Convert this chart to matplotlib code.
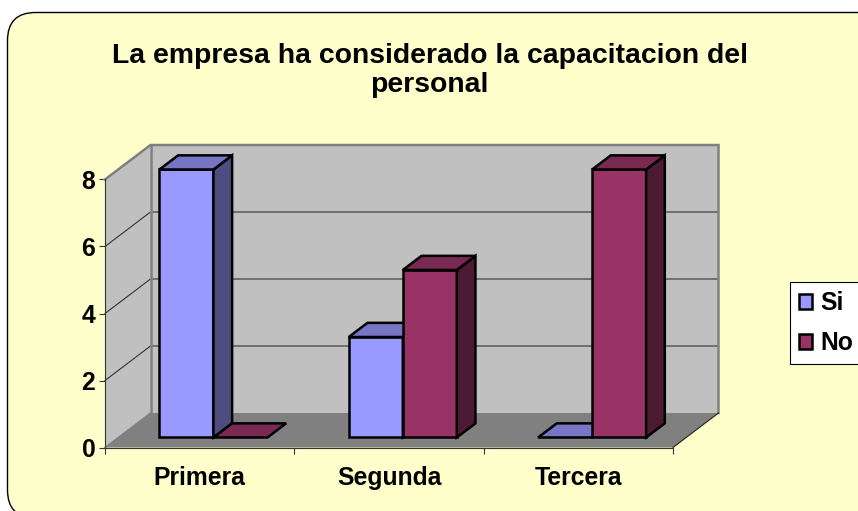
import matplotlib
matplotlib.use("Agg")
import matplotlib.pyplot as plt
from matplotlib.patches import FancyBboxPatch, Polygon, Patch

categories = ["Primera", "Segunda", "Tercera"]
series_names = ["Si", "No"]
si_values = [8, 3, 0]
no_values = [0, 5, 8]
y_ticks = [0, 2, 4, 6, 8]
title = "La empresa ha considerado la capacitacion del\npersonal"

W, H = 858, 511
FONT = "Liberation Sans"
plt.rcParams["font.family"] = [FONT, "DejaVu Sans"]
plt.rcParams["font.weight"] = "bold"

fig = plt.figure(figsize=(W / 100, H / 100), dpi=100, facecolor="white")

# Rounded card background in pixel coordinates
bg = fig.add_axes([0, 0, 1, 1])
bg.set_xlim(0, W)
bg.set_ylim(H, 0)
bg.axis("off")
bg.add_patch(FancyBboxPatch((7.5 + 28, 12.5 + 28), W + 60 - 56, 449.5,
                            boxstyle="round,pad=28,rounding_size=28",
                            fc="#FFFFCC", ec="black", lw=1.0, clip_on=True))
bg.text(429.5, 70.5, title, ha="center", va="center", fontsize=20.4,
        fontweight="bold", linespacing=1.19)

# Front plane of the 3D box
L, R, T, B = 105, 673, 179.5, 447.5
ax = fig.add_axes([L / W, 1 - B / H, (R - L) / W, (B - T) / H])
ax.patch.set_alpha(0)
ax.set_xlim(0, 3)
ax.set_ylim(0, 8)

DX = 45.5 / ((R - L) / 3)      # depth offset in category units
DY = 34.5 / ((B - T) / 8)      # depth offset in value units


def pt(x, y, d):
    return (x + DX * d, y + DY * d)


def poly(points, fc, ec, lw, z):
    ax.add_patch(Polygon(points, closed=True, fc=fc, ec=ec, lw=lw, zorder=z,
                         clip_on=False, joinstyle="miter"))


# Walls and floor
ymax = max(y_ticks)
poly([pt(0, 0, 0), pt(0, ymax, 0), pt(0, ymax, 1), pt(0, 0, 1)],
     "#C0C0C0", "none", 0, 1)
poly([pt(0, 0, 1), pt(0, ymax, 1), pt(3, ymax, 1), pt(3, 0, 1)],
     "#C0C0C0", "none", 0, 1)
poly([pt(0, 0, 0), pt(0, 0, 1), pt(3, 0, 1), pt(3, 0, 0)],
     "#808080", "none", 0, 1.5)

# Gridlines
for v in y_ticks[1:-1]:
    xs, ys = zip(pt(0, v, 0), pt(0, v, 1), pt(3, v, 1))
    ax.plot(xs, ys, color="#333333", lw=0.8, zorder=2, clip_on=False)

# Wall outlines
gray = "#808080"
xs, ys = zip(pt(0, ymax, 0), pt(0, ymax, 1), pt(3, ymax, 1), pt(3, 0, 1))
ax.plot(xs, ys, color=gray, lw=1.8, zorder=2, clip_on=False, solid_joinstyle="miter")
xs, ys = zip(pt(0, ymax, 1), pt(0, 0, 1))
ax.plot(xs, ys, color=gray, lw=1.8, zorder=2, clip_on=False)
xs, ys = zip(pt(3, 0, 1), pt(3, 0, 0))
ax.plot(xs, ys, color="#222222", lw=0.8, zorder=2.5, clip_on=False)
xs, ys = zip(pt(0, 0, 0), pt(0, 0, 1))
ax.plot(xs, ys, color=gray, lw=1.0, zorder=1.6, clip_on=False)

# 3D bars
BW = 54 / ((R - L) / 3)
SHIFT = 0.6 / ((R - L) / 3)
D0, D1 = 0.29, 0.70
styles = [("#9999FF", "#7676C4", "#4D4D80"), ("#993366", "#7A2952", "#4D1A33")]
z = 3.0
for i in range(len(categories)):
    for s, vals in enumerate([si_values, no_values]):
        v = vals[i]
        x0 = i + 0.5 - BW + s * BW + SHIFT
        x1 = x0 + BW
        front, top, side = styles[s]
        if v > 0:
            poly([pt(x0, 0, D0), pt(x1, 0, D0), pt(x1, v, D0), pt(x0, v, D0)],
                 front, "black", 1.8, z)
            poly([pt(x1, 0, D0), pt(x1, 0, D1), pt(x1, v, D1), pt(x1, v, D0)],
                 side, "black", 1.8, z)
        poly([pt(x0, v, D0), pt(x1, v, D0), pt(x1, v, D1), pt(x0, v, D1)],
             top, "black", 1.8, z)
        z += 0.1

# Axes
for name in ("top", "right"):
    ax.spines[name].set_visible(False)
for name in ("left", "bottom"):
    ax.spines[name].set_color("#333333")
    ax.spines[name].set_linewidth(0.8)
    ax.spines[name].set_zorder(2.6)
ax.set_yticks(y_ticks)
ax.set_yticklabels([str(v) for v in y_ticks], fontsize=17.8, fontweight="bold")
ax.set_xticks(range(len(categories) + 1))
ax.set_xticklabels([])
ax.set_xticks([i + 0.5 for i in range(len(categories))], minor=True)
ax.set_xticklabels(categories, minor=True, fontsize=17.8, fontweight="bold")
ax.tick_params(axis="x", which="major", length=4, width=0.8, color="#333333")
ax.tick_params(axis="x", which="minor", length=0, pad=13)
ax.tick_params(axis="y", length=4, width=0.8, color="#333333", pad=3)

# Legend
handles = [Patch(fc=styles[k][0], ec="black", lw=1.8) for k in range(2)]
leg = fig.legend(handles, series_names, loc="upper left",
                 bbox_to_anchor=(790 / W, 1 - 282 / H),
                 bbox_transform=fig.transFigure, fontsize=17.8, frameon=True,
                 fancybox=False, framealpha=1, facecolor="white",
                 edgecolor="black", handlelength=0.55, handleheight=0.55,
                 handletextpad=0.3, labelspacing=0.65, borderpad=0.36,
                 borderaxespad=0)
leg.get_frame().set_linewidth(0.8)

fig.savefig("out.png", dpi=100, facecolor="white")
